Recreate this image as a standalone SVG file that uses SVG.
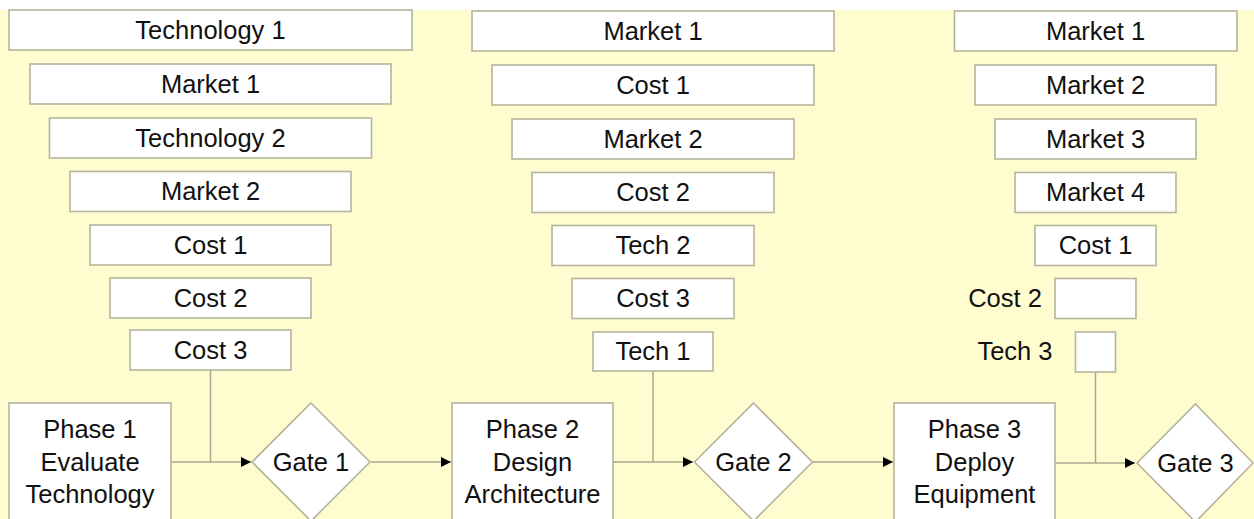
<svg xmlns="http://www.w3.org/2000/svg" width="1254" height="519" viewBox="0 0 1254 519">
<style>
.box{fill:#ffffff;stroke:#b4b49c;stroke-width:1.6}
.t{font-family:"Liberation Sans",Arial,sans-serif;font-size:25.5px;fill:#111111;text-anchor:middle}
.ln{fill:none;stroke:#a8a890;stroke-width:1.5}
</style>
<defs>
<marker id="ah" viewBox="0 0 10 10" refX="10" refY="5" markerWidth="12" markerHeight="10" markerUnits="userSpaceOnUse" orient="auto">
<path d="M0,0 L10,5 L0,10 z" fill="#000"/>
</marker>
</defs>
<rect x="0" y="0" width="1254" height="519" fill="#ffffff"/>
<rect x="0" y="10" width="1254" height="509" fill="#fffdd0"/>

<g id="connectors">
<path class="ln" d="M171,462 H251" marker-end="url(#ah)"/>
<path class="ln" d="M210.5,370 V462"/>
<path class="ln" d="M371,462 H451" marker-end="url(#ah)"/>
<path class="ln" d="M653,371 V462"/>
<path class="ln" d="M613,462 H693" marker-end="url(#ah)"/>
<path class="ln" d="M813,462 H893" marker-end="url(#ah)"/>
<path class="ln" d="M1095.5,372 V463"/>
<path class="ln" d="M1055,463 H1135" marker-end="url(#ah)"/>
</g>

<g id="c1-tech1"><rect class="box" x="9" y="10" width="403" height="40"/><text class="t" x="210.5" y="38.5">Technology 1</text></g>
<g id="c1-market1"><rect class="box" x="30" y="64" width="361" height="40"/><text class="t" x="210.5" y="92.5">Market 1</text></g>
<g id="c1-tech2"><rect class="box" x="49.5" y="118" width="322" height="40"/><text class="t" x="210.5" y="146.5">Technology 2</text></g>
<g id="c1-market2"><rect class="box" x="70" y="171.5" width="281" height="40"/><text class="t" x="210.5" y="200">Market 2</text></g>
<g id="c1-cost1"><rect class="box" x="90" y="225" width="241" height="40"/><text class="t" x="210.5" y="253.5">Cost 1</text></g>
<g id="c1-cost2"><rect class="box" x="110" y="278" width="201" height="40"/><text class="t" x="210.5" y="306.5">Cost 2</text></g>
<g id="c1-cost3"><rect class="box" x="130" y="330" width="161" height="40"/><text class="t" x="210.5" y="358.5">Cost 3</text></g>

<g id="c2-market1"><rect class="box" x="472" y="11" width="362" height="40"/><text class="t" x="653" y="39.5">Market 1</text></g>
<g id="c2-cost1"><rect class="box" x="492" y="65" width="322" height="40"/><text class="t" x="653" y="93.5">Cost 1</text></g>
<g id="c2-market2"><rect class="box" x="512" y="119" width="282" height="40"/><text class="t" x="653" y="147.5">Market 2</text></g>
<g id="c2-cost2"><rect class="box" x="532" y="172.5" width="242" height="40"/><text class="t" x="653" y="201">Cost 2</text></g>
<g id="c2-tech2"><rect class="box" x="552" y="225.5" width="202" height="40"/><text class="t" x="653" y="254">Tech 2</text></g>
<g id="c2-cost3"><rect class="box" x="572" y="278.5" width="162" height="40"/><text class="t" x="653" y="307">Cost 3</text></g>
<g id="c2-tech1"><rect class="box" x="593" y="332" width="120" height="39"/><text class="t" x="653" y="360">Tech 1</text></g>

<g id="c3-market1"><rect class="box" x="954.5" y="11" width="282.5" height="40"/><text class="t" x="1095.5" y="39.5">Market 1</text></g>
<g id="c3-market2"><rect class="box" x="975" y="65" width="241" height="40"/><text class="t" x="1095.5" y="93.5">Market 2</text></g>
<g id="c3-market3"><rect class="box" x="995" y="119" width="201" height="40"/><text class="t" x="1095.5" y="147.5">Market 3</text></g>
<g id="c3-market4"><rect class="box" x="1015" y="172.5" width="161" height="40"/><text class="t" x="1095.5" y="201">Market 4</text></g>
<g id="c3-cost1"><rect class="box" x="1035" y="225.5" width="121" height="40"/><text class="t" x="1095.5" y="254">Cost 1</text></g>
<g id="c3-cost2"><rect class="box" x="1055" y="278.5" width="81" height="40"/><text class="t" x="1005" y="307">Cost 2</text></g>
<g id="c3-tech3"><rect class="box" x="1075.5" y="332" width="40" height="40"/><text class="t" x="1015" y="360">Tech 3</text></g>

<g id="phase1"><rect class="box" x="9" y="403" width="162" height="130"/><text class="t" x="90" y="438">Phase 1</text><text class="t" x="90" y="471">Evaluate</text><text class="t" x="90" y="503">Technology</text></g>
<g id="phase2"><rect class="box" x="452" y="403" width="161" height="130"/><text class="t" x="532.5" y="438">Phase 2</text><text class="t" x="532.5" y="471">Design</text><text class="t" x="532.5" y="503">Architecture</text></g>
<g id="phase3"><rect class="box" x="894" y="403" width="161" height="130"/><text class="t" x="974.5" y="438">Phase 3</text><text class="t" x="974.5" y="471">Deploy</text><text class="t" x="974.5" y="503">Equipment</text></g>

<g id="gate1"><polygon class="box" points="311,403 370,462 311,521 252,462"/><text class="t" x="311" y="471">Gate 1</text></g>
<g id="gate2"><polygon class="box" points="753.5,403 812.5,462 753.5,521 694.5,462"/><text class="t" x="753.5" y="471">Gate 2</text></g>
<g id="gate3"><polygon class="box" points="1195.5,404 1253,463 1195.5,522 1137,463"/><text class="t" x="1195.5" y="472">Gate 3</text></g>
</svg>
